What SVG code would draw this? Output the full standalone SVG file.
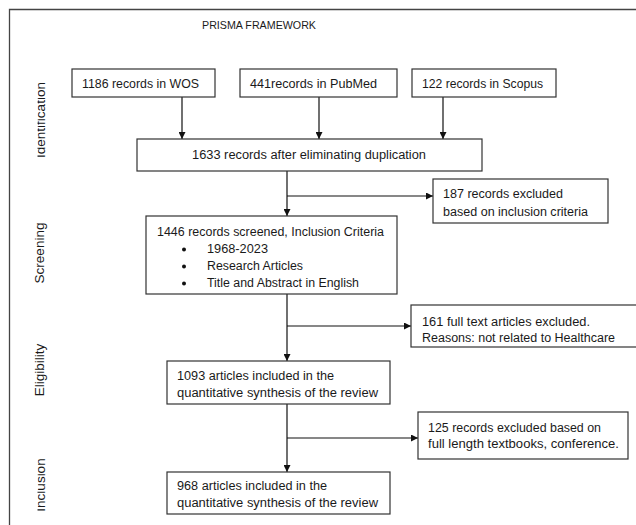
<svg xmlns="http://www.w3.org/2000/svg" width="636" height="525" viewBox="0 0 636 525">
<style>
.box{fill:#fff;stroke:#333;stroke-width:1.2}
.t{font-family:"Liberation Sans",Arial,sans-serif;font-size:12px;fill:#1a1a1a}
.side{font-family:"Liberation Sans",Arial,sans-serif;font-size:13.5px;fill:#1a1a1a;text-anchor:middle}
.ln{fill:none;stroke:#111;stroke-width:1.2}
</style>
<defs>
<marker id="ah" viewBox="0 0 10 10" refX="10" refY="5" markerWidth="7" markerHeight="7" markerUnits="userSpaceOnUse" orient="auto">
<path d="M0,0 L10,5 L0,10 Z" fill="#111"/>
</marker>
<clipPath id="sideclip" clipPathUnits="userSpaceOnUse"><rect x="37.5" y="0" width="30" height="525"/></clipPath>
</defs>
<rect width="636" height="525" fill="#fff"/>
<g id="frame">
<path d="M9.5,525 V9.5 H636" fill="none" stroke="#444" stroke-width="1.3"/>
<text x="202" y="29" textLength="114" lengthAdjust="spacingAndGlyphs" style="font-family:'Liberation Sans',Arial,sans-serif;font-size:11px;fill:#1a1a1a">PRISMA FRAMEWORK</text>
</g>
<g id="labels">
<g clip-path="url(#sideclip)"><text class="side" transform="translate(45,120) rotate(-90)">Identification</text></g>
<text class="side" transform="translate(43.5,253) rotate(-90)">Screening</text>
<text class="side" transform="translate(43.5,370) rotate(-90)">Eligibility</text>
<g clip-path="url(#sideclip)"><text class="side" transform="translate(45,485) rotate(-90)">Inclusion</text></g>
</g>
<g id="connectors">
<line class="ln" x1="182" y1="97" x2="182" y2="139" marker-end="url(#ah)"/>
<line class="ln" x1="319" y1="97" x2="319" y2="139" marker-end="url(#ah)"/>
<line class="ln" x1="443" y1="97" x2="443" y2="139" marker-end="url(#ah)"/>
<line class="ln" x1="287" y1="171" x2="287" y2="216" marker-end="url(#ah)"/>
<line class="ln" x1="287" y1="196" x2="433" y2="196" marker-end="url(#ah)"/>
<line class="ln" x1="287" y1="294" x2="287" y2="361" marker-end="url(#ah)"/>
<line class="ln" x1="287" y1="326" x2="411" y2="326" marker-end="url(#ah)"/>
<line class="ln" x1="287" y1="404" x2="287" y2="472" marker-end="url(#ah)"/>
<line class="ln" x1="287" y1="438" x2="418" y2="438" marker-end="url(#ah)"/>
</g>
<g id="n-wos"><rect class="box" x="72" y="69" width="143" height="28"/><text class="t" x="82" y="88" textLength="117" lengthAdjust="spacingAndGlyphs">1186 records in WOS</text></g>
<g id="n-pubmed"><rect class="box" x="240" y="69" width="157" height="28"/><text class="t" x="250" y="88" textLength="127" lengthAdjust="spacingAndGlyphs">441records in PubMed</text></g>
<g id="n-scopus"><rect class="box" x="412" y="69" width="144" height="28"/><text class="t" x="422" y="88" textLength="121" lengthAdjust="spacingAndGlyphs">122 records in Scopus</text></g>
<g id="n-1633"><rect class="box" x="137" y="139" width="345" height="32"/><text class="t" x="192" y="159" textLength="234" lengthAdjust="spacingAndGlyphs">1633 records after eliminating duplication</text></g>
<g id="n-187"><rect class="box" x="433" y="179" width="175" height="44"/><text class="t" x="443" y="198" textLength="120" lengthAdjust="spacingAndGlyphs">187 records excluded</text><text class="t" x="443" y="216" textLength="145" lengthAdjust="spacingAndGlyphs">based on inclusion criteria</text></g>
<g id="n-1446"><rect class="box" x="146" y="216" width="251" height="78"/>
<text class="t" x="157" y="236" textLength="227" lengthAdjust="spacingAndGlyphs">1446 records screened, Inclusion Criteria</text>
<circle cx="184" cy="249.5" r="2" fill="#111"/><text class="t" x="207" y="253" textLength="61" lengthAdjust="spacingAndGlyphs">1968-2023</text>
<circle cx="184" cy="266.5" r="2" fill="#111"/><text class="t" x="207" y="270" textLength="96" lengthAdjust="spacingAndGlyphs">Research Articles</text>
<circle cx="184" cy="283.5" r="2" fill="#111"/><text class="t" x="207" y="287" textLength="152" lengthAdjust="spacingAndGlyphs">Title and Abstract in English</text>
</g>
<g id="n-161"><rect class="box" x="411" y="305" width="240" height="42"/><text class="t" x="422" y="326" textLength="168" lengthAdjust="spacingAndGlyphs">161 full text articles excluded.</text><text class="t" x="422" y="342" textLength="193" lengthAdjust="spacingAndGlyphs">Reasons: not related to Healthcare</text></g>
<g id="n-1093"><rect class="box" x="167" y="361" width="223" height="43"/><text class="t" x="177" y="380" textLength="157" lengthAdjust="spacingAndGlyphs">1093 articles included in the</text><text class="t" x="177" y="397" textLength="201" lengthAdjust="spacingAndGlyphs">quantitative synthesis of the review</text></g>
<g id="n-125"><rect class="box" x="418" y="412" width="210" height="47"/><text class="t" x="428" y="432" textLength="173" lengthAdjust="spacingAndGlyphs">125 records excluded based on</text><text class="t" x="428" y="448" textLength="191" lengthAdjust="spacingAndGlyphs">full length  textbooks, conference.</text></g>
<g id="n-968"><rect class="box" x="167" y="472" width="223" height="42"/><text class="t" x="177" y="490" textLength="150" lengthAdjust="spacingAndGlyphs">968 articles included in the</text><text class="t" x="177" y="507" textLength="201" lengthAdjust="spacingAndGlyphs">quantitative synthesis of the review</text></g>
</svg>
